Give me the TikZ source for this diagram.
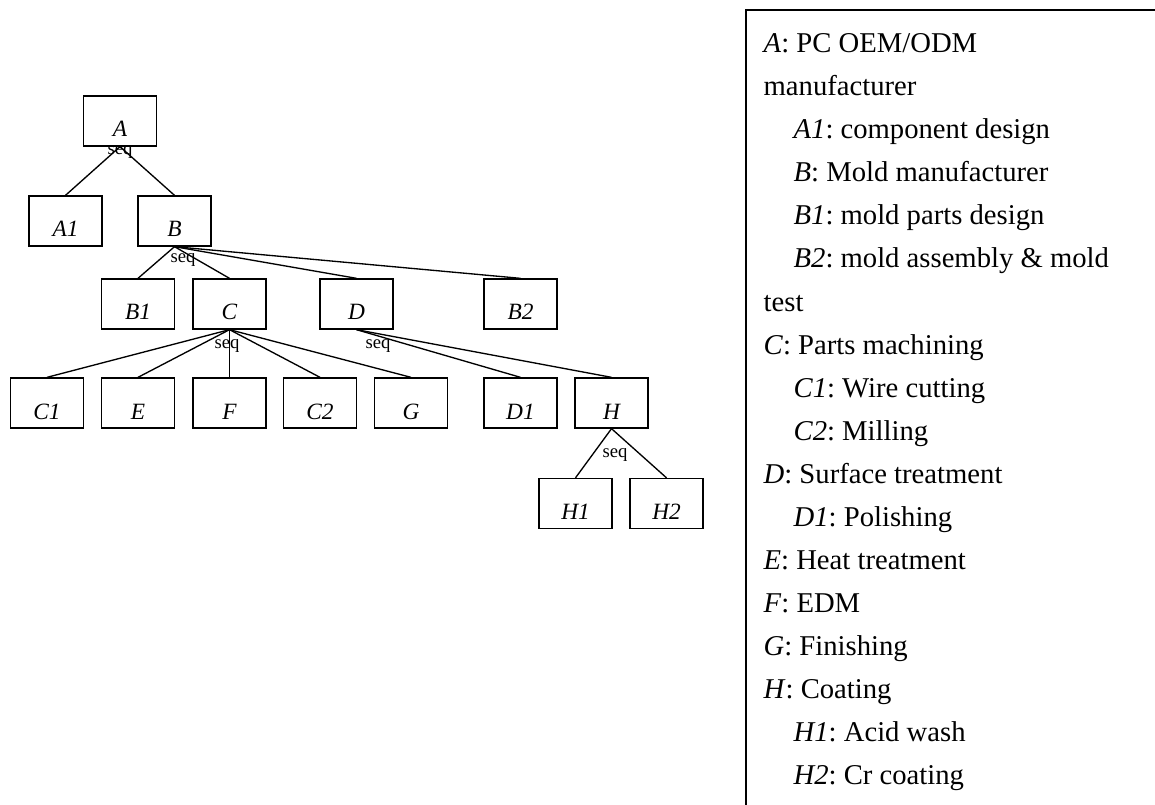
\documentclass[tikz,border=0pt]{standalone}
\usepackage{fontspec}
\setmainfont{Liberation Serif}
\usetikzlibrary{positioning}

\begin{document}
\begin{tikzpicture}[
    x=0.75pt, y=-0.75pt, line width=1pt,
    task/.style={draw, rectangle, minimum width=54.75pt, minimum height=37.5pt, inner sep=2pt, text height=24pt, text depth=0pt, font=\fontsize{17.5}{20}\selectfont\itshape},
    seqlabel/.style={inner sep=0pt, font=\fontsize{14}{16}\selectfont},
    legendtext/.style={anchor=north west, inner sep=0pt, align=left, font=\fontsize{21.5}{32.3}\selectfont\frenchspacing}
]
    \clip (0,0) rectangle (1155,805);

    % ================= TASKS =================
    \node[task] (A) at (120, 121) {A};

    \node[task] (A1) at (65.5, 221) {A1};
    \node[task] (B) at (174.5, 221) {B};

    \node[task] (B1) at (138, 304) {B1};
    \node[task] (C) at (229.5, 304) {C};
    \node[task] (D) at (356.5, 304) {D};
    \node[task] (B2) at (520.5, 304) {B2};

    \node[task] (C1) at (47, 403) {C1};
    \node[task] (E) at (138, 403) {E};
    \node[task] (F) at (229.5, 403) {F};
    \node[task] (C2) at (320, 403) {C2};
    \node[task] (G) at (411, 403) {G};
    \node[task] (D1) at (520.5, 403) {D1};
    \node[task] (H) at (611.5, 403) {H};

    \node[task] (H1) at (575.5, 503.5) {H1};
    \node[task] (H2) at (666.5, 503.5) {H2};

    % ================= EDGES =================

    % A decomposition
    \draw (A.south) -- (A1.north);
    \draw (A.south) -- (B.north);

    % B decomposition
    \draw (B.south) -- (B1.north);
    \draw (B.south) -- (C.north);
    \draw (B.south) -- (D.north);
    \draw (B.south) -- (B2.north);

    % C decomposition
    \draw (C.south) -- (C1.north);
    \draw (C.south) -- (E.north);
    \draw (C.south) -- (F.north);
    \draw (C.south) -- (C2.north);
    \draw (C.south) -- (G.north);

    % D decomposition
    \draw (D.south) -- (D1.north);
    \draw (D.south) -- (H.north);

    % H decomposition
    \draw (H.south) -- (H1.north);
    \draw (H.south) -- (H2.north);

    % ================= SEQ LABELS =================
    \node[seqlabel] (seqA) at (120, 152) {seq};
    \node[seqlabel] (seqB) at (183, 260) {seq};
    \node[seqlabel] (seqC) at (227, 346) {seq};
    \node[seqlabel] (seqD) at (378, 346) {seq};
    \node[seqlabel] (seqH) at (615, 455) {seq};

    % ================= LEGEND =================
    \draw (746, 10) rectangle (1170, 820);
    \node[legendtext] (legend) at (763, 33) {%
        \textit{A}: PC OEM/ODM\\
        manufacturer\\
        \hspace*{22.5pt}\textit{A1}: component design\\
        \hspace*{22.5pt}\textit{B}: Mold manufacturer\\
        \hspace*{22.5pt}\textit{B1}: mold parts design\\
        \hspace*{22.5pt}\textit{B2}: mold assembly \& mold\\
        test\\
        \textit{C}: Parts machining\\
        \hspace*{22.5pt}\textit{C1}: Wire cutting\\
        \hspace*{22.5pt}\textit{C2}: Milling\\
        \textit{D}: Surface treatment\\
        \hspace*{22.5pt}\textit{D1}: Polishing\\
        \textit{E}: Heat treatment\\
        \textit{F}: EDM\\
        \textit{G}: Finishing\\
        \textit{H}: Coating\\
        \hspace*{22.5pt}\textit{H1}: Acid wash\\
        \hspace*{22.5pt}\textit{H2}: Cr coating};

\end{tikzpicture}
\end{document}
